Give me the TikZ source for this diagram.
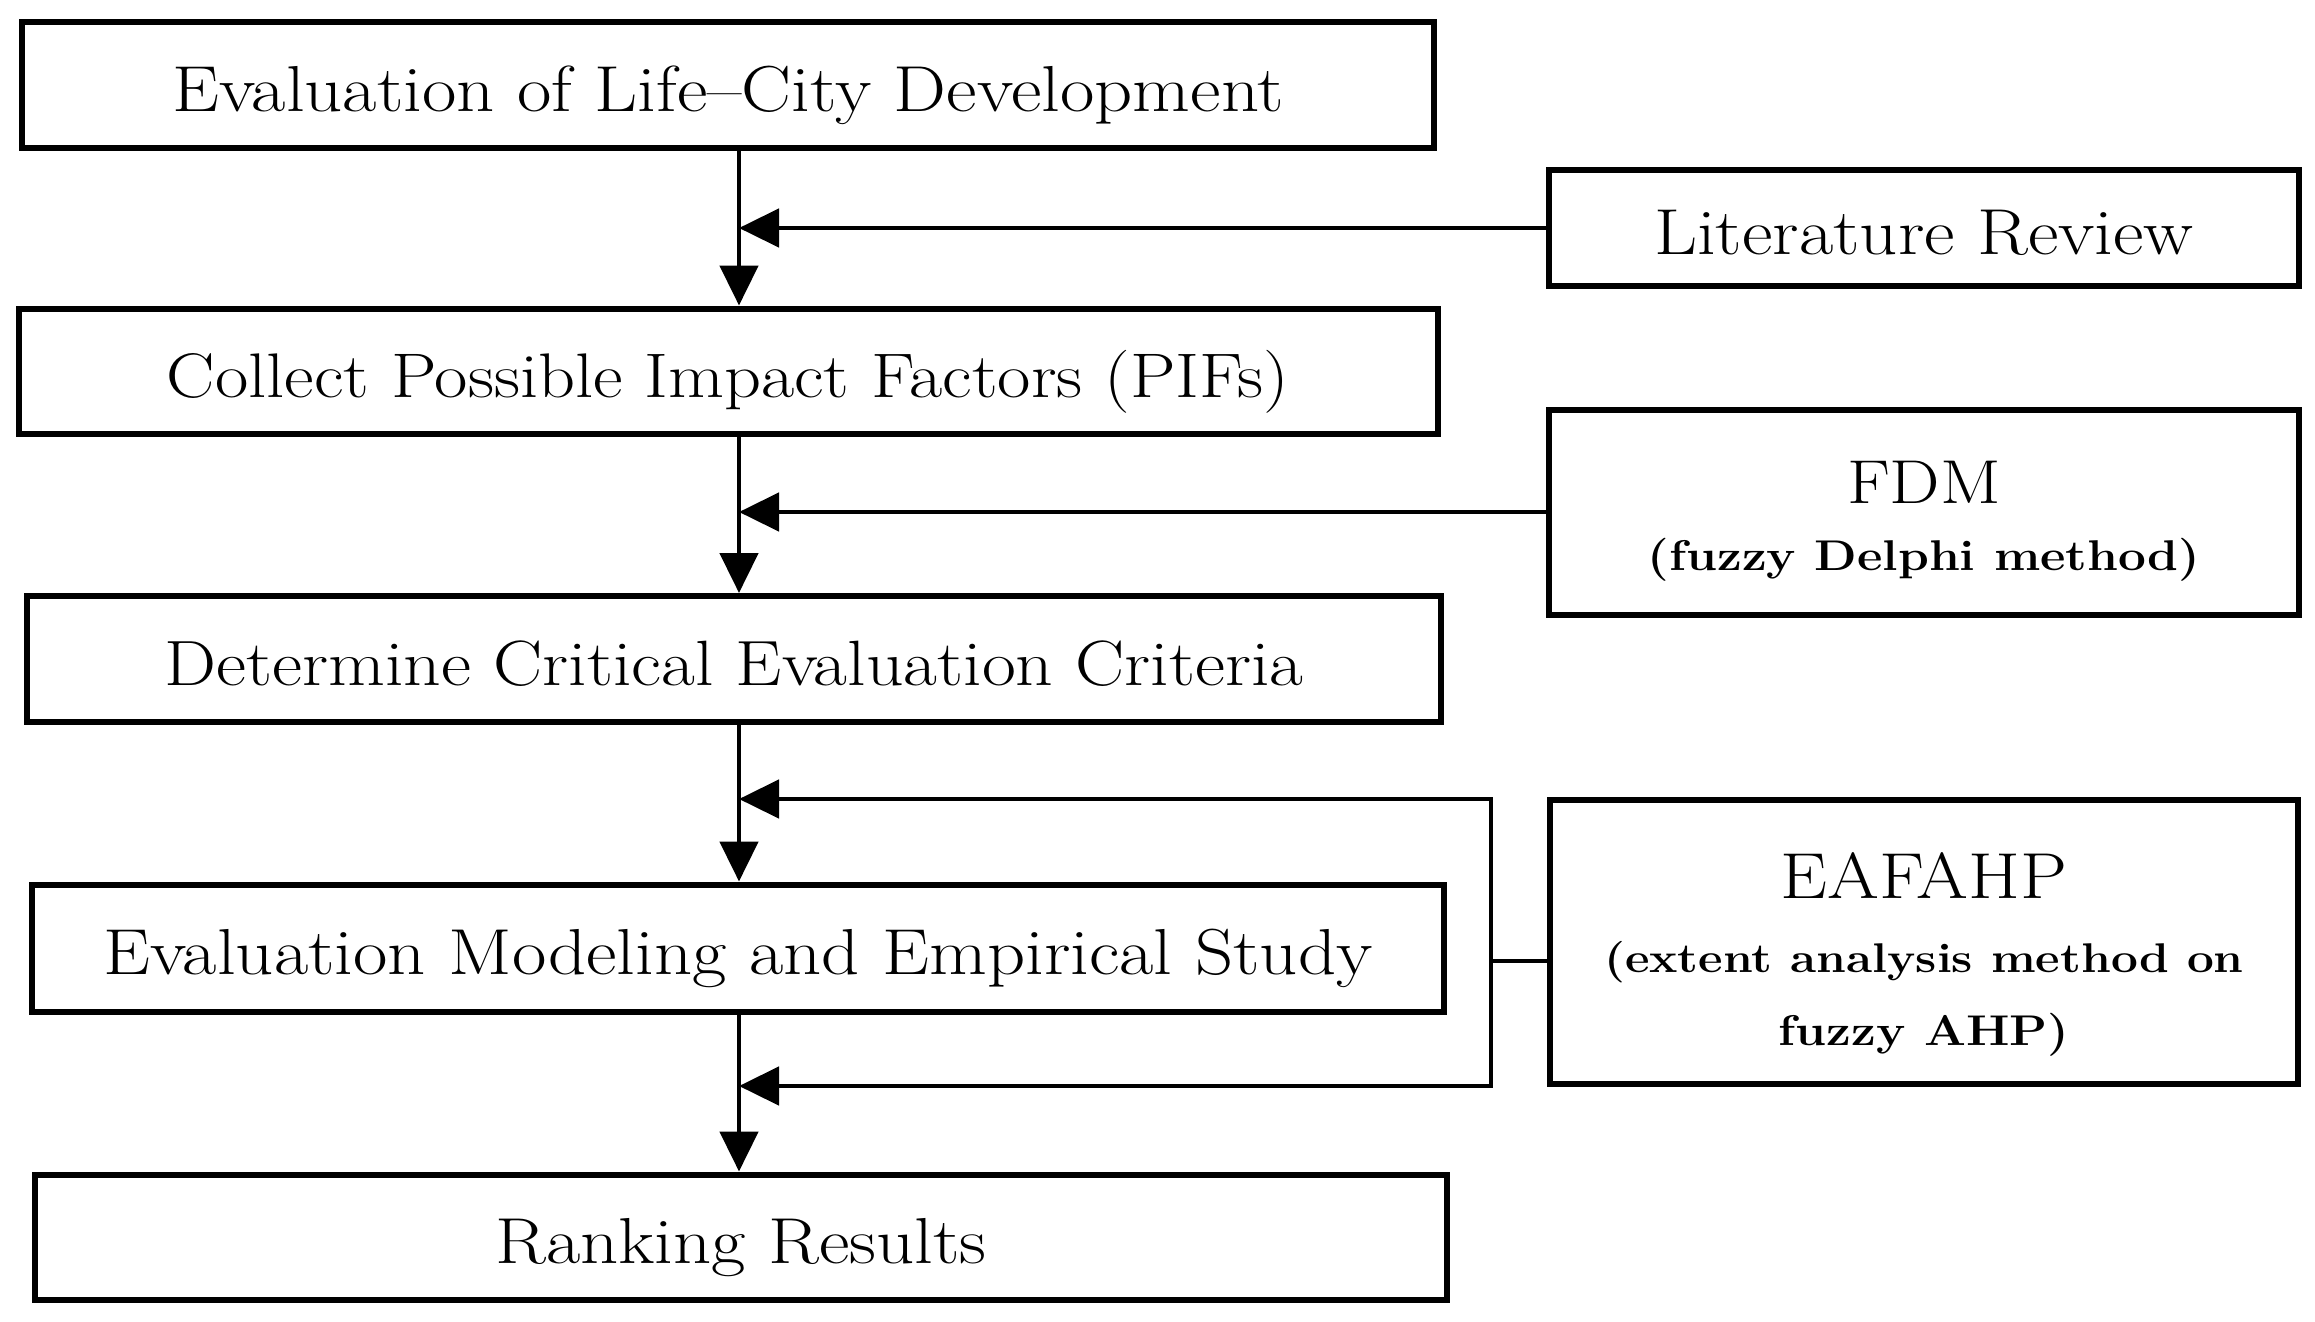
\documentclass[tikz,border=0pt]{standalone}
\usepackage{fontspec}
\setmainfont{Latin Modern Roman}[FakeStretch=1.15]
\usetikzlibrary{arrows.meta,calc}
\newcommand{\subfnt}{\bfseries\fontsize{43}{56}\selectfont}
\begin{document}
\begin{tikzpicture}[x=1pt,y=-1pt,
  box/.style={draw=black,line width=6pt,inner sep=0pt,align=center,
    text height=52pt,text depth=0pt,
    font=\fontsize{65}{74}\selectfont},
  txt/.style={inner sep=0pt,anchor=base,font=\fontsize{65}{74}\selectfont},
  sub/.style={inner sep=0pt,anchor=base,font=\subfnt},
  conn/.style={line width=4.8pt},
  arr/.style={conn,-{Triangle[length=40pt,width=38pt]}}]
\useasboundingbox (0,0) rectangle (2315,1322);
\coordinate (X) at (739,0);
% main column
\node[box,minimum width=1412pt,minimum height=126pt] (b1) at (728,85) {Evaluation of Life--City Development};
\node[box,minimum width=1419pt,minimum height=125pt,font=\fontsize{63}{74}\selectfont] (b2) at (728,371) {Collect Possible Impact Factors (PIFs)};
\node[box,minimum width=1414pt,minimum height=126pt,font=\fontsize{64}{74}\selectfont] (b3) at (734,659) {Determine Critical Evaluation Criteria};
\node[box,minimum width=1412pt,minimum height=127pt] (b4) at (738,948) {Evaluation Modeling and Empirical Study};
\node[box,minimum width=1412pt,minimum height=125pt] (b5) at (741,1237) {Ranking Results};
% side boxes
\node[box,minimum width=750pt,minimum height=116pt] (lit) at (1924,228) {Literature Review};
\node[box,minimum width=750pt,minimum height=205pt] (fdm) at (1924,512) {};
\node[txt,font=\fontsize{62}{74}\selectfont] (fdmT) at (1924,503) {FDM};
\node[sub] (fdmS) at (1924,570) {(fuzzy Delphi method)};
\node[box,minimum width=748pt,minimum height=284pt] (eaf) at (1924,942) {};
\node[txt] (eafT) at (1924,898) {EAFAHP};
\node[sub,font=\bfseries\fontsize{41.5}{56}\selectfont] (eafS1) at (1924,972) {(extent analysis method on};
\node[sub] (eafS2) at (1924,1045) {fuzzy AHP)};
% vertical flow
\draw[arr] (b1.south -| X) -- (b2.north -| X);
\draw[arr] (b2.south -| X) -- (b3.north -| X);
\draw[arr] (b3.south -| X) -- (b4.north -| X);
\draw[arr] (b4.south -| X) -- (b5.north -| X);
% side inputs
\draw[arr] (lit.west) -- (lit.west -| X);
\draw[arr] (fdm.west) -- (fdm.west -| X);
\coordinate (bt) at (1491,799);
\coordinate (bb) at (1491,1086);
\coordinate (es) at ($(eaf.west)+(0,19)$);
\draw[conn,line cap=rect] (bt) -- (bb);
\draw[conn] (es) -- (es -| bt);
\draw[arr] (bt) -- (bt -| X);
\draw[arr] (bb) -- (bb -| X);
\end{tikzpicture}
\end{document}
